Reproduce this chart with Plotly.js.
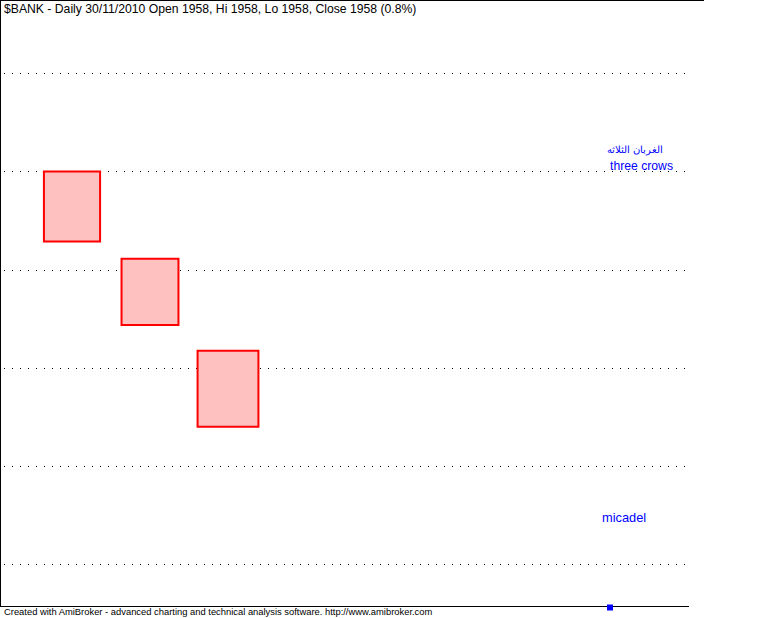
<!DOCTYPE html>
<html>
<head>
<meta charset="utf-8">
<script src="https://cdn.plot.ly/plotly-3.0.1.min.js"></script>
<style>
html,body{margin:0;padding:0;background:#fff;}
#chart{width:764px;height:618px;}
</style>
</head>
<body>
<div id="chart"></div>
<script>
// Data
const days = [1, 2, 3];
const openVals = [1980.1, 1962.3, 1943.5];
const closeVals = [1965.8, 1948.8, 1928.0];
const gridLevels = [1900, 1920, 1940, 1960, 1980, 2000];
const titleText = "$BANK - Daily 30/11/2010 Open 1958, Hi 1958, Lo 1958, Close 1958 (0.8%)";
const arabicLabel = "الغربان الثلاثه";
const patternLabel = "three crows";
const authorLabel = "micadel";
const footerText = "Created with AmiBroker - advanced charting and technical analysis software. http://www.amibroker.com";

const W = 687, H = 606; // plot area size in px
const px = x => (x - 1) / W;
const py = y => 1 - y / H;

const bodyHeights = openVals.map((o, i) => o - closeVals[i]);

const trace = {
  type: 'bar',
  x: days,
  y: bodyHeights,
  base: closeVals,
  width: [0.72, 0.73, 0.78],
  marker: {color: '#ffc0c0', line: {color: '#ff0000', width: 2}},
  hoverinfo: 'skip',
  showlegend: false
};

const FONT = 'Arial, "Liberation Sans", sans-serif';

const layout = {
  width: 764, height: 618,
  margin: {l: 1, r: 76, t: 0, b: 12, pad: 0},
  paper_bgcolor: '#ffffff',
  plot_bgcolor: '#ffffff',
  showlegend: false,
  bargap: 0,
  xaxis: {
    range: [0.0897, 0.0897 + 687 / 78],
    showgrid: false, zeroline: false, showticklabels: false, ticks: '',
    showline: false, fixedrange: true
  },
  yaxis: {
    range: [1891.43, 2015.10],
    tickvals: gridLevels,
    showgrid: true, gridcolor: '#000000', gridwidth: 1, griddash: '0px,3px,1px,4px',
    layer: 'above traces',
    zeroline: false, showticklabels: false, ticks: '', showline: false, fixedrange: true
  },
  shapes: [
    {type: 'line', xref: 'paper', yref: 'paper', x0: px(0.5), x1: px(0.5), y0: py(0), y1: py(607), line: {color: '#000', width: 1}},
    {type: 'line', xref: 'paper', yref: 'paper', x0: px(0), x1: px(704), y0: py(0.5), y1: py(0.5), line: {color: '#000', width: 1}},
    {type: 'line', xref: 'paper', yref: 'paper', x0: px(0), x1: px(689), y0: py(606.5), y1: py(606.5), line: {color: '#000', width: 1}},
    {type: 'rect', xref: 'paper', yref: 'paper', x0: px(607), x1: px(613), y0: py(604.5), y1: py(610.5), fillcolor: '#0000ff', line: {width: 0}}
  ],
  annotations: [
    {text: titleText, xref: 'paper', yref: 'paper', x: px(2), y: py(9), xanchor: 'left', yanchor: 'middle', showarrow: false, font: {family: FONT, size: 12.2, color: '#000'}},
    {text: arabicLabel, xref: 'paper', yref: 'paper', x: px(665), y: py(150), xanchor: 'right', yanchor: 'middle', showarrow: false, font: {family: FONT, size: 9.5, color: '#0000ff'}},
    {text: patternLabel, xref: 'paper', yref: 'paper', x: px(608), y: py(166), xanchor: 'left', yanchor: 'middle', showarrow: false, font: {family: FONT, size: 12.2, color: '#0000ff'}},
    {text: authorLabel, xref: 'paper', yref: 'paper', x: px(600), y: py(517), xanchor: 'left', yanchor: 'middle', showarrow: false, font: {family: FONT, size: 12.8, color: '#0000ff'}},
    {text: footerText, xref: 'paper', yref: 'paper', x: px(2), y: py(611.5), xanchor: 'left', yanchor: 'middle', showarrow: false, font: {family: FONT, size: 9.4, color: '#000'}}
  ]
};

Plotly.newPlot('chart', [trace], layout, {displayModeBar: false, staticPlot: true});
</script>
</body>
</html>
